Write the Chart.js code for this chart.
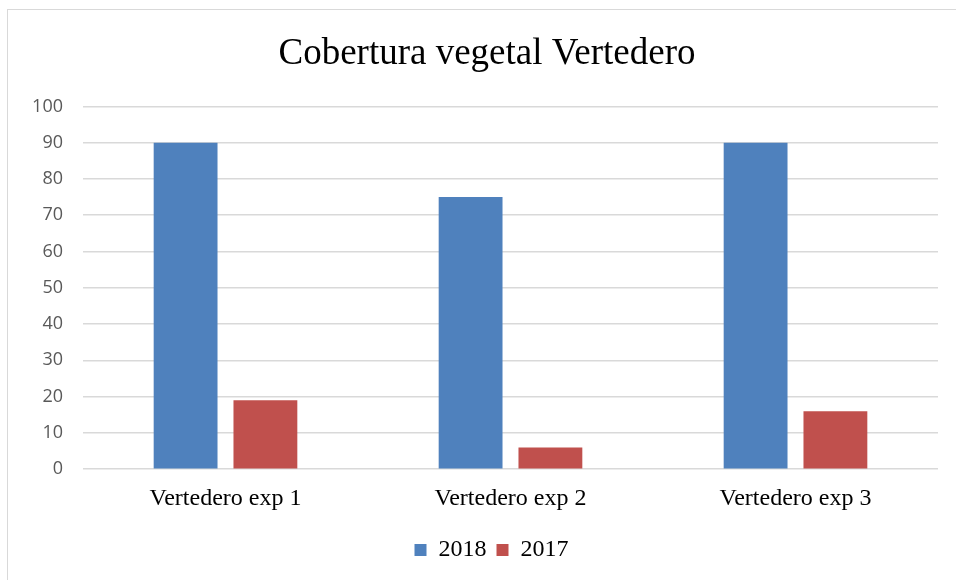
<!DOCTYPE html>
<html>
<head>
<meta charset="utf-8">
<script src="https://cdn.jsdelivr.net/npm/chart.js@4/dist/chart.umd.min.js"></script>
<style>
  html, body { margin: 0; padding: 0; background: #fff; }
  #box {
    position: absolute; left: 7px; top: 9px; width: 949px; height: 571px;
    border-left: 1px solid #d9d9d9; border-top: 1px solid #d9d9d9;
  }
</style>
</head>
<body>
<div id="box"><canvas id="barChart" width="948" height="570"></canvas></div>
<script>
var categories = ['Vertedero exp 1', 'Vertedero exp 2', 'Vertedero exp 3'];
var values2018 = [90, 75, 90];
var values2017 = [19, 6, 16];

var serif = "'Liberation Serif', 'Times New Roman', serif";

// título y leyenda van centrados sobre todo el cuadro, no sobre el área del eje
var centerBlocks = {
  id: 'centerBlocks',
  afterLayout: function(chart) {
    if (chart.titleBlock) chart.titleBlock.left += 25;
    if (chart.legend) chart.legend.left += 34;
  }
};

var ctx = document.getElementById('barChart');
var myBarChart = new Chart(ctx, {
  type: 'bar',
  data: {
    labels: categories,
    datasets: [
      { label: '2018', data: values2018, backgroundColor: '#4f81bd', categoryPercentage: 0.56, barPercentage: 0.8 },
      { label: '2017', data: values2017, backgroundColor: '#c0504d', categoryPercentage: 0.56, barPercentage: 0.8 }
    ]
  },
  plugins: [centerBlocks],
  options: {
    responsive: false,
    animation: false,
    layout: { padding: { left: 3, right: 18, top: 0, bottom: 8 } },
    plugins: {
      tooltip: { enabled: false },
      title: {
        display: true,
        text: 'Cobertura vegetal Vertedero',
        color: '#000',
        font: { family: serif, size: 37, weight: 'normal' },
        padding: { top: 22, bottom: 30 }
      },
      legend: {
        position: 'bottom',
        labels: {
          color: '#000',
          boxWidth: 12, boxHeight: 12,
          padding: 10,
          font: { family: serif, size: 24 }
        }
      }
    },
    scales: {
      y: {
        min: 0, max: 100,
        afterFit: function(scale) { scale.width = 72; },
        ticks: { stepSize: 10, color: '#595959', padding: 20, font: { family: "'Open Sans', sans-serif", size: 18 } },
        grid: { color: '#d9d9d9', lineWidth: 1.5, drawTicks: false },
        border: { display: false }
      },
      x: {
        ticks: { color: '#000', padding: 15, font: { family: serif, size: 24 } },
        grid: { display: false, drawTicks: false },
        border: { display: false }
      }
    }
  }
});
</script>
</body>
</html>
